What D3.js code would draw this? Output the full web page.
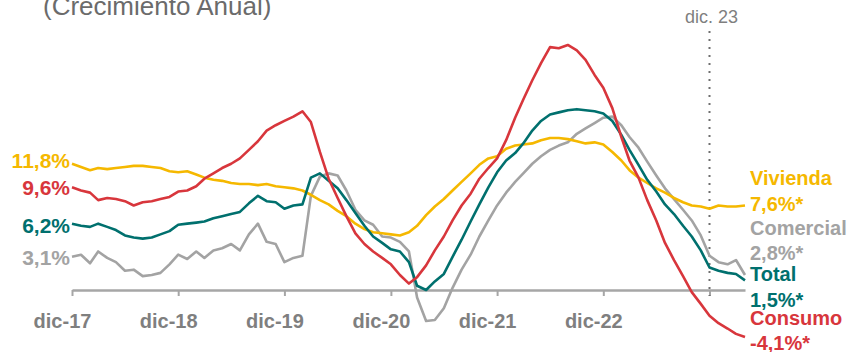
<!DOCTYPE html>
<html>
<head>
<meta charset="utf-8">
<script src="https://cdn.jsdelivr.net/npm/d3@7"></script>
<style>
  body { margin: 0; background: #fff; }
  svg { display: block; font-family: "Liberation Sans", Arial, sans-serif; }
</style>
</head>
<body>
<script>
// Monthly readings, dic-17 .. abr-24 (77 months)
const months = d3.timeMonth.range(new Date(2017, 11, 1), new Date(2024, 4, 1));

const vivienda = [
  11.8, 11.5, 11.2, 11.4, 11.3, 11.4, 11.5, 11.6, 11.6, 11.5, 11.4, 11.1,
  11.0, 11.1, 10.8, 10.5, 10.3, 10.2, 10.0, 9.9, 9.9, 9.8, 9.9, 9.7,
  9.6, 9.5, 9.3, 8.9, 8.4, 8.0, 7.4, 6.9, 6.2, 5.7, 5.4, 5.3,
  5.2, 5.1, 5.4, 6.0, 7.0, 7.8, 8.5, 9.3, 10.1, 10.9, 11.7, 12.3,
  12.5, 13.2, 13.5, 13.6, 13.7, 14.0, 14.2, 14.2, 14.1, 13.9, 13.7, 13.8,
  13.6, 12.9, 12.1, 11.2, 10.5, 10.0, 9.5, 9.1, 8.6, 8.2, 7.9, 7.8,
  7.6, 7.9, 7.8, 7.8, 7.9
];

const consumo = [
  9.6, 9.3, 9.1, 8.4, 8.6, 8.5, 8.3, 7.9, 8.2, 8.3, 8.5, 8.7,
  9.2, 9.3, 9.7, 10.4, 10.9, 11.4, 11.8, 12.3, 13.1, 13.9, 14.9, 15.4,
  15.8, 16.2, 16.7, 15.7, 12.9, 10.4, 8.6, 6.9, 5.3, 4.3, 3.6, 3.0,
  2.4, 1.4, 0.6, 1.2, 2.3, 3.7, 5.0, 6.5, 7.9, 9.0, 10.4, 11.4,
  12.3, 14.0, 16.1, 17.8, 19.6, 21.2, 22.7, 22.6, 22.9, 22.4, 21.5, 20.1,
  18.9, 17.0, 14.3, 12.1, 10.5, 8.4, 6.5, 4.4, 2.8, 1.3, -0.2, -1.3,
  -2.4, -3.1, -3.6, -4.1, -4.4
];

const total = [
  6.2, 6.0, 5.9, 6.2, 5.9, 5.6, 5.1, 4.9, 4.8, 4.9, 5.2, 5.5,
  6.1, 6.2, 6.3, 6.4, 6.7, 6.9, 7.1, 7.3, 8.1, 8.8, 8.3, 8.2,
  7.6, 7.9, 8.0, 10.5, 10.9, 10.2, 9.5, 8.4, 7.2, 6.0, 5.0, 4.4,
  3.8, 3.6, 2.6, 0.4, 0.0, 0.8, 1.5, 3.1, 4.7, 6.4, 8.0, 9.6,
  11.0, 12.1, 12.8, 13.7, 14.9, 15.8, 16.4, 16.6, 16.8, 16.9, 16.8, 16.7,
  16.5, 15.8, 14.5, 13.1, 11.7, 10.3, 9.2, 8.0, 7.1, 6.0, 5.0, 3.7,
  2.1, 1.8, 1.6, 1.5, 0.9
];

const comercial = [
  3.1, 3.3, 2.5, 3.6, 3.0, 2.6, 1.8, 1.9, 1.3, 1.4, 1.6, 2.4,
  3.3, 2.9, 3.6, 3.0, 3.7, 3.9, 4.3, 3.7, 5.2, 6.2, 4.5, 4.3,
  2.6, 3.0, 3.2, 8.8, 10.6, 10.9, 10.7, 9.3, 7.5, 6.5, 6.1, 5.0,
  4.9, 4.5, 3.6, -0.7, -2.9, -2.8, -1.7, 0.2, 1.9, 3.3, 5.0, 6.5,
  7.9, 9.1, 10.1, 10.9, 11.8, 12.5, 13.1, 13.5, 13.8, 14.6, 15.1, 15.6,
  16.1, 16.2, 15.4, 14.3, 13.3, 12.0, 10.7, 9.5, 8.5, 7.5, 6.5, 5.1,
  3.2, 2.6, 2.4, 2.8, 1.4
];

const seriesNames = ["Comercial", "Vivienda", "Total", "Consumo"];
const seriesValues = [comercial, vivienda, total, consumo];
const seriesColors = ["#a3a3a3", "#f5b800", "#00706e", "#d8363c"];

const startLabels = ["11,8%", "9,6%", "6,2%", "3,1%"];
const endNames = ["Vivienda", "Comercial", "Total", "Consumo"];
const endValues = ["7,6%*", "2,8%*", "1,5%*", "-4,1%*"];
const tickLabels = ["dic-17", "dic-18", "dic-19", "dic-20", "dic-21", "dic-22", ""];
const markerLabel = "dic. 23";
const title = "(Crecimiento Anual)";

const colorOf = {};
seriesNames.forEach((n, i) => colorOf[n] = seriesColors[i]);

//Basic canvas.
const width = 856, height = 352;
const svg = d3.select("body").append("svg").attr("width", width).attr("height", height);

const x = d3.scaleTime().domain([months[0], months[months.length - 1]]).range([72, 745]);
const y = d3.scaleLinear().domain([0, 10]).range([290, 183]);

//Title (cut at the top of the picture).
svg.append("text")
  .attr("x", 43).attr("y", 15)
  .attr("font-size", 26).attr("fill", "#6b6b6b")
  .text(title);

//X axis on the zero line. Labels sit a bit left of their ticks, as in the original.
const decembers = d3.range(0, 7).map(k => new Date(2017 + k, 11, 1));
const xAxis = d3.axisBottom(x)
  .tickValues(decembers)
  .tickSize(6)
  .tickSizeOuter(0)
  .tickFormat((d, i) => tickLabels[i]);

const gx = svg.append("g")
  .attr("transform", "translate(0," + y(0) + ")")
  .call(xAxis);
gx.select(".domain").attr("stroke", "#a6a6a6").attr("stroke-width", 2.5);
gx.selectAll(".tick line").attr("stroke", "#a6a6a6").attr("stroke-width", 2);
gx.selectAll(".tick text")
  .attr("x", -10).attr("y", 38).attr("dy", null)
  .attr("font-size", 20).attr("font-weight", "bold")
  .attr("font-family", "Liberation Sans, Arial, sans-serif")
  .attr("fill", "#7f7f7f");

//Dotted marker at dic-23.
const xMarker = x(decembers[6]);
svg.append("line")
  .attr("x1", xMarker).attr("x2", xMarker)
  .attr("y1", 31).attr("y2", 296)
  .attr("stroke", "#6f6f6f").attr("stroke-width", 2)
  .attr("stroke-dasharray", "2,6");
svg.append("text")
  .attr("x", xMarker + 2).attr("y", 23)
  .attr("text-anchor", "middle")
  .attr("font-size", 18).attr("fill", "#7f7f7f")
  .text(markerLabel);

//Lines.
const line = d3.line()
  .x((d, i) => x(months[i]))
  .y(d => y(d));

seriesValues.forEach((vals, i) => {
  svg.append("path")
    .datum(vals)
    .attr("fill", "none")
    .attr("stroke", seriesColors[i])
    .attr("stroke-width", 2.6)
    .attr("stroke-linejoin", "round")
    .attr("d", line);
});

//Start labels on the left.
const startOrder = ["Vivienda", "Consumo", "Total", "Comercial"];
const startY = [168, 195, 233, 265];
startLabels.forEach((t, i) => {
  svg.append("text")
    .attr("x", 70).attr("y", startY[i])
    .attr("text-anchor", "end")
    .attr("font-size", 21).attr("font-weight", "bold")
    .attr("fill", colorOf[startOrder[i]])
    .text(t);
});

//End labels on the right.
const endY = [[185, 211], [235, 260], [281, 307], [325, 350]];
endNames.forEach((n, i) => {
  const g = svg.append("g").attr("font-size", 20).attr("font-weight", "bold").attr("fill", colorOf[n]);
  g.append("text").attr("x", 750).attr("y", endY[i][0]).text(n);
  g.append("text").attr("x", 750).attr("y", endY[i][1]).text(endValues[i]);
});
</script>
</body>
</html>
